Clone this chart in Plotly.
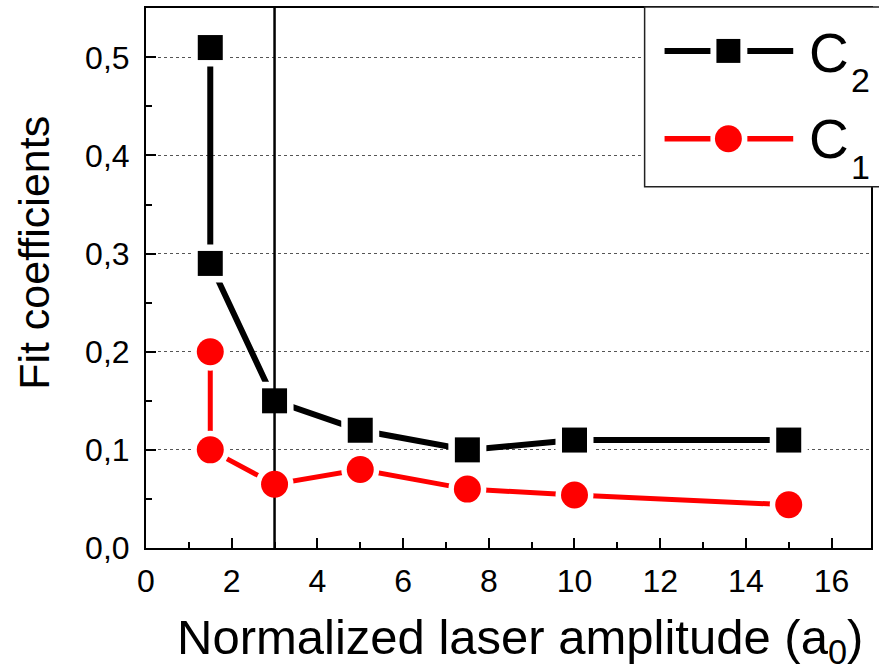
import plotly.graph_objects as go

# ---- data ----
a0 = [1.5, 1.5, 3, 5, 7.5, 10, 15]
c2 = [0.51, 0.29, 0.15, 0.12, 0.10, 0.11, 0.11]
c1 = [0.20, 0.10, 0.065, 0.08, 0.06, 0.054, 0.044]
marker_line_x = 3
x_ticks = [0, 2, 4, 6, 8, 10, 12, 14, 16]
y_ticks = [0.0, 0.1, 0.2, 0.3, 0.4, 0.5]

W, H = 879, 671
L, R, T, B = 146, 6, 7, 123
PW, PH = W - L - R, H - T - B

def px(x):
    return (x - L) / PW

def py(y):
    return (H - B - y) / PH

FONT = "Liberation Sans, Arial, sans-serif"
RED = "#ff0000"
fig = go.Figure()

# connecting lines
fig.add_trace(go.Scatter(x=a0, y=c2, mode="lines", line=dict(color="black", width=6),
                         showlegend=False, hoverinfo="skip"))
fig.add_trace(go.Scatter(x=a0, y=c1, mode="lines", line=dict(color=RED, width=5),
                         showlegend=False, hoverinfo="skip"))
# white halos to create the gaps at markers
fig.add_trace(go.Scatter(x=a0, y=c2, mode="markers",
                         marker=dict(symbol="square", size=38, color="white"),
                         showlegend=False, hoverinfo="skip"))
fig.add_trace(go.Scatter(x=a0, y=c1, mode="markers",
                         marker=dict(symbol="circle", size=38, color="white"),
                         showlegend=False, hoverinfo="skip"))
# vertical reference line
fig.add_trace(go.Scatter(x=[marker_line_x, marker_line_x], y=[0, 0.56], mode="lines",
                         line=dict(color="black", width=2.5), showlegend=False, hoverinfo="skip"))
# markers
fig.add_trace(go.Scatter(x=a0, y=c2, mode="markers", name="C2",
                         marker=dict(symbol="square", size=25, color="black"), showlegend=False))
fig.add_trace(go.Scatter(x=a0, y=c1, mode="markers", name="C1",
                         marker=dict(symbol="circle", size=27, color=RED), showlegend=False))

axis_common = dict(
    showline=True, linecolor="black", linewidth=2, mirror=True,
    ticks="inside", ticklen=10, tickwidth=2, tickcolor="black",
    tickfont=dict(family=FONT, size=32, color="black"),
    zeroline=False,
)
fig.update_xaxes(range=[0, 16.92], tickvals=x_ticks, showgrid=False,
                 minor=dict(ticks="inside", ticklen=6, tickwidth=2, tickcolor="black", dtick=1, showgrid=False),
                 ticklabelstandoff=4, **axis_common)
fig.update_yaxes(range=[0, 0.5503], tickvals=y_ticks, tickformat=".1f",
                 showgrid=True, gridcolor="#555555", gridwidth=1, griddash="3px,3px",
                 minor=dict(ticks="inside", ticklen=6, tickwidth=2, tickcolor="black", dtick=0.05, showgrid=False),
                 ticklabelstandoff=8, **axis_common)

shapes = []
annotations = []
# legend box
shapes.append(dict(type="rect", xref="paper", yref="paper", x0=px(646), x1=px(895), y0=py(186), y1=py(6),
                   line=dict(color="#222222", width=1.5), fillcolor="white", layer="above"))
# legend line segments
for (yy, col, w) in [(50, "black", 6), (138, RED, 5.5)]:
    shapes.append(dict(type="line", xref="paper", yref="paper", x0=px(666), x1=px(712), y0=py(yy), y1=py(yy),
                       line=dict(color=col, width=w), layer="above"))
    shapes.append(dict(type="line", xref="paper", yref="paper", x0=px(749), x1=px(795), y0=py(yy), y1=py(yy),
                       line=dict(color=col, width=w), layer="above"))
shapes.append(dict(type="rect", xref="paper", yref="paper", x0=px(718), x1=px(742), y0=py(62), y1=py(38),
                   line=dict(width=0), fillcolor="black", layer="above"))
shapes.append(dict(type="circle", xref="paper", yref="paper", x0=px(716.5), x1=px(743.5), y0=py(151.5), y1=py(124.5),
                   line=dict(width=0), fillcolor=RED, layer="above"))

def ann(text, x, y, size, **kw):
    d = dict(text=text, xref="paper", yref="paper", x=px(x), y=py(y),
             xanchor="left", yanchor="middle", showarrow=False,
             font=dict(family=FONT, size=size, color="black"))
    d.update(kw)
    annotations.append(d)

# legend labels
ann("C", 809, 52, 55)
ann("2", 851, 79, 34)
ann("C", 809, 138, 55)
ann("1", 851, 166, 34)
# axis titles
ann("Normalized laser amplitude (a<sub>0</sub>)", 521, 641, 49, xanchor="center")
ann("Fit coefficients", 33, 252, 43, xanchor="center", textangle=-90)

fig.update_layout(
    width=W, height=H, autosize=False,
    margin=dict(l=L, r=R, t=T, b=B, pad=0),
    paper_bgcolor="white", plot_bgcolor="white",
    separators=",.",
    shapes=shapes, annotations=annotations,
    font=dict(family=FONT, color="black"),
)

fig.write_html("out.html")
